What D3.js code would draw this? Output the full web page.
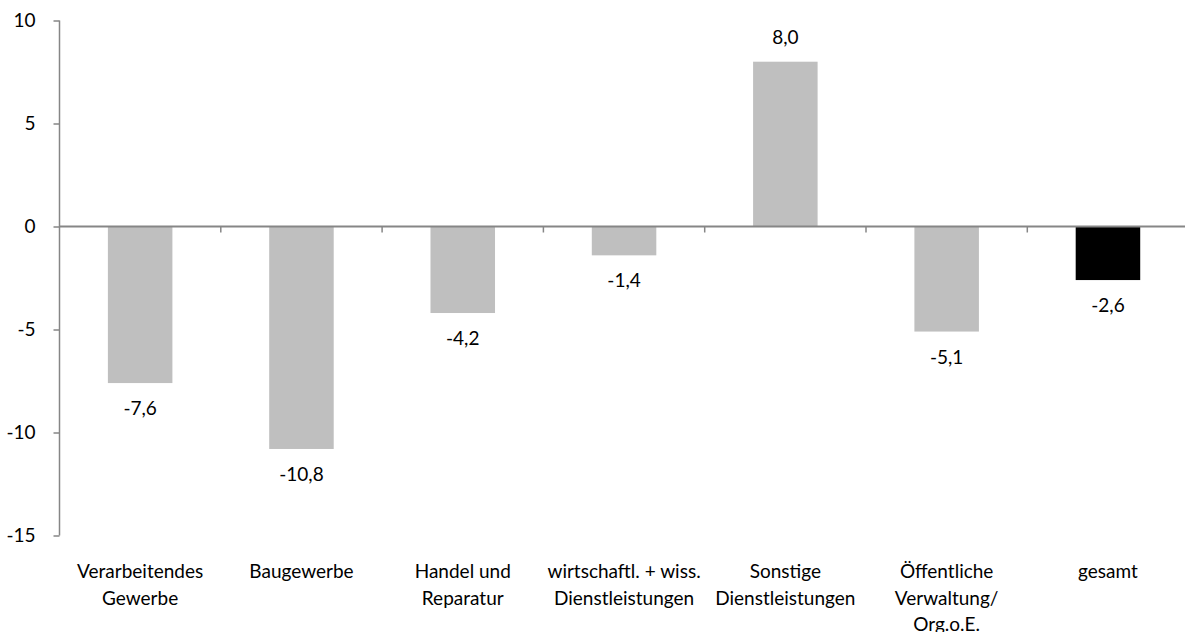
<!DOCTYPE html>
<html><head><meta charset="utf-8">
<script src="https://cdn.jsdelivr.net/npm/d3@7"></script>
<style>body{margin:0;background:#fff;} text{font-family:Lato, "Open Sans", sans-serif;fill:#000;}</style>
</head><body>
<svg id="c" width="1185" height="632"></svg>
<script>
const categories = [["Verarbeitendes","Gewerbe"],["Baugewerbe"],["Handel und","Reparatur"],["wirtschaftl. + wiss.","Dienstleistungen"],["Sonstige","Dienstleistungen"],["Öffentliche","Verwaltung/","Org.o.E."],["gesamt"]];
const values = [-7.6,-10.8,-4.2,-1.4,8.0,-5.1,-2.6];
const yTicks = [-15,-10,-5,0,5,10];
const barColors = ["#BFBFBF","#BFBFBF","#BFBFBF","#BFBFBF","#BFBFBF","#BFBFBF","#000000"];

const svg = d3.select("#c");
const fs = 19;
const x = d3.scaleBand().domain(d3.range(categories.length)).range([59.5, 1188.6]).paddingInner(0.6).paddingOuter(0.3);
const xb = d3.scaleBand().domain(d3.range(categories.length)).range([59.5, 1188.6]);
const y = d3.scaleLinear().domain([-15,10]).range([535.5, 20.5]);

// bars
svg.selectAll("rect.bar").data(values).join("rect")
  .attr("x",(d,i)=>x(i)).attr("width",x.bandwidth())
  .attr("y",d=>y(Math.max(0,d))).attr("height",d=>Math.abs(y(d)-y(0)))
  .attr("fill",(d,i)=>barColors[i]);

// y axis
const ya = svg.append("g").attr("transform","translate(59.5,0)")
  .call(d3.axisLeft(y).tickValues(yTicks).tickSize(6).tickPadding(18).tickFormat(d3.format("d")));
ya.select(".domain").attr("stroke","#868686").attr("stroke-width",1.5).attr("d","M0,"+y(10)+"V"+y(-15));
ya.selectAll(".tick line").attr("stroke","#868686").attr("stroke-width",1.5);
ya.selectAll(".tick text").attr("font-size",fs).attr("font-family","Lato").attr("fill","#000").text(d=>d<0?"-"+Math.abs(d):d);

// x axis at zero
const xa = svg.append("g").attr("transform","translate(0,"+y(0)+")")
  .call(d3.axisBottom(xb).tickSize(0).tickFormat(""));
xa.select(".domain").attr("stroke","#868686").attr("stroke-width",2).attr("d","M59.5,0H1188.6");
xa.selectAll(".tick").remove();
const bounds = d3.range(1,categories.length);
xa.selectAll("line.tk").data(bounds).join("line")
  .attr("x1",i=>xb(i)).attr("x2",i=>xb(i)).attr("y1",0).attr("y2",6)
  .attr("stroke","#868686").attr("stroke-width",1.5);

// value labels
const fmt = v => (v<0?"-":"")+Math.abs(v).toFixed(1).replace(".",",");
svg.selectAll("text.val").data(values).join("text")
  .attr("x",(d,i)=>x(i)+x.bandwidth()/2)
  .attr("y",d=>d<0? y(d)+32 : y(d)-18)
  .attr("text-anchor","middle").attr("font-size",fs).text(fmt);

// category labels
categories.forEach((lines,i)=>{
  const t = svg.append("text").attr("text-anchor","middle").attr("font-size",fs)
    .attr("x",xb(i)+xb.bandwidth()/2).attr("y",578);
  lines.forEach((l,j)=>t.append("tspan").attr("x",xb(i)+xb.bandwidth()/2).attr("dy",j?26.5:0).text(l));
});
</script>
</body></html>
